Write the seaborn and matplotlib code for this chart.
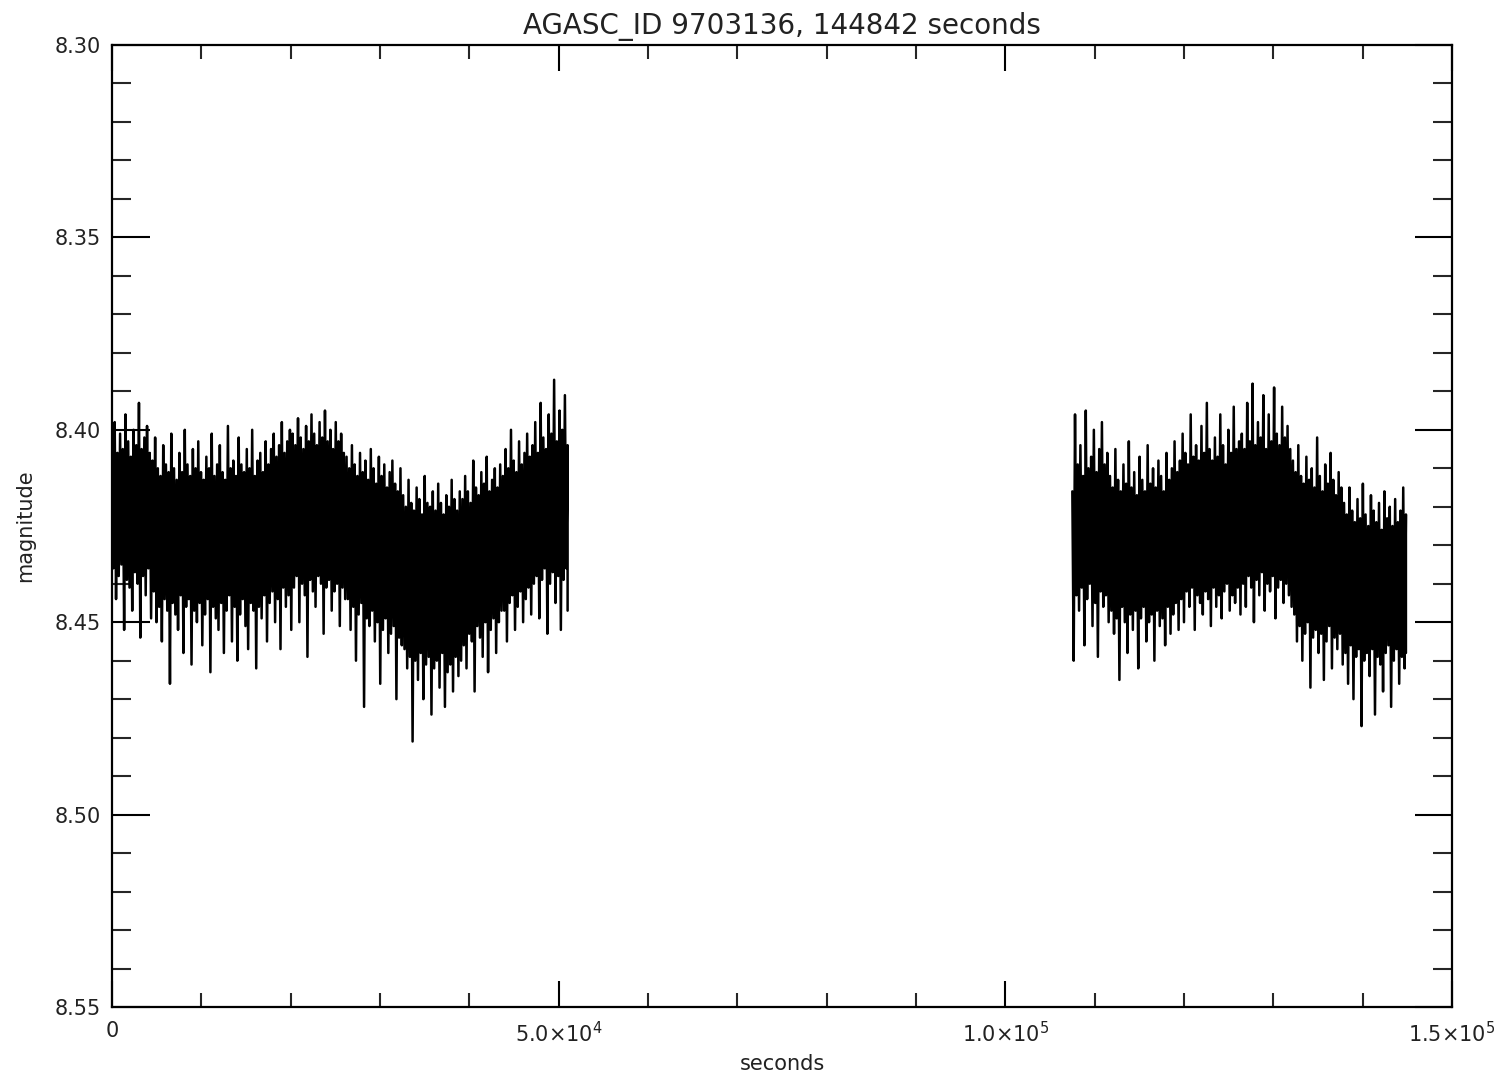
import numpy as np
import pandas as pd
import matplotlib
matplotlib.use("Agg")
import matplotlib.pyplot as plt
import seaborn as sns

# Light curve for AGASC_ID 9703136 over two observing intervals.
# Values are millimagnitudes above 8 mag, stored as alternating
# bright (top) and faint (bottom) samples along each interval.
seg1_start, seg1_end = 0.0, 51000.0
seg2_start, seg2_end = 107500.0, 144842.0

seg1_top = [
    404, 398, 406, 401, 405, 396, 403, 407, 400, 404, 393, 405, 402, 399, 406,
    408, 402, 410, 412, 404, 409, 411, 401, 410, 413,
    406, 411, 400, 409, 412, 405, 410, 403, 411, 413,
    407, 410, 401, 412, 409, 404, 411, 413, 399, 410,
    408, 412, 402, 409, 411, 405, 410, 400, 412, 408,
    406, 411, 403, 409, 405, 401, 407, 404, 398, 406,
    403, 400,
    401, 404, 397, 402, 405, 399, 403, 396, 401, 404,
    398, 402, 395, 403, 400, 405, 398, 403, 401, 406,
    407, 410, 404, 409, 412, 406, 411, 408, 413, 405,
    410, 414, 407, 412, 409, 415, 411, 408, 414, 416, 410,
    417, 420, 413, 419, 421, 415, 418, 422, 412, 419,
    420, 416, 421, 414, 419, 422, 417, 420, 413, 418, 421, 416,
    418, 412, 416, 419, 408, 415, 417, 411, 414, 407, 416, 413, 410, 415, 409,
    412, 405, 410, 400, 408, 411, 403, 409, 406, 401, 407,
    404, 398, 406, 393, 402, 405, 396, 401, 387, 403, 395, 400, 391, 404,
]
seg1_bottom = [
    436, 444, 438, 435, 452, 439, 441, 447, 437, 440, 454, 438, 443, 436, 449,
    442, 450, 446, 455, 444, 447, 466, 445, 448, 452,
    443, 458, 446, 444, 461, 447, 450, 445, 456, 448,
    444, 463, 446, 449, 452, 445, 458, 447, 443, 455,
    446, 460, 448, 444, 451, 457, 445, 447, 462, 446,
    449, 443, 455, 445, 442, 450, 444, 457, 441, 446,
    443, 452,
    441, 438, 450, 440, 443, 459, 439, 442, 446, 438,
    440, 453, 441, 439, 447, 442, 440, 451, 441, 444,
    444, 452, 446, 460, 448, 445, 472, 449, 451, 447,
    455, 450, 466, 452, 449, 458, 453, 451, 470, 454, 456,
    457, 462, 459, 481, 460, 465, 458, 470, 461, 459,
    474, 462, 460, 467, 458, 472, 463, 461, 468, 459, 464, 460,
    456, 462, 453, 455, 468, 451, 454, 459, 450, 463, 452, 449, 458, 450, 447,
    447, 455, 445, 443, 452, 446, 442, 450, 444, 441, 448,
    440, 438, 449, 439, 436, 453, 440, 437, 445, 438, 452, 439, 436, 447,
]
seg2_top = [
    416, 396, 409, 404, 412, 395, 410, 407, 400, 411, 405, 398, 409, 406,
    412, 415, 405, 413, 416, 409, 414, 403, 415, 411,
    417, 407, 413, 416, 404, 414, 410, 415, 408, 412,
    416, 406, 413, 410, 403, 411,
    408, 401, 406, 409, 396, 407, 404, 408, 399, 406,
    393, 405, 408, 402, 407, 396, 404, 409, 400, 406, 394, 405, 403,
    401, 405, 393, 403, 388, 404, 398, 402, 391, 405,
    396, 403, 389, 401, 404, 394, 402, 399, 405,
    408, 411, 404, 412, 414, 407, 413, 410, 415, 402,
    412, 416, 409, 414, 406, 413, 417, 411, 415,
    419, 422, 415, 421, 424, 418, 423, 414, 422, 425,
    417, 421, 424, 419, 426, 416, 423, 420, 425, 418, 424, 421, 415, 422,
]
seg2_bottom = [
    460, 443, 447, 441, 456, 444, 440, 451, 445, 459, 442, 446, 443, 450,
    447, 453, 449, 465, 446, 450, 458, 448, 452, 447,
    462, 449, 446, 455, 450, 448, 460, 447, 451, 449,
    456, 446, 453, 448, 445, 452,
    444, 450, 442, 446, 441, 452, 443, 445, 448, 442,
    444, 451, 441, 446, 443, 449, 442, 440, 447, 443, 445, 441, 448,
    440, 446, 438, 441, 450, 439, 443, 437, 447, 440,
    442, 438, 449, 441, 439, 445, 440, 443, 446,
    448, 455, 451, 460, 453, 450, 467, 454, 452, 458,
    453, 465, 455, 451, 462, 454, 457, 453, 461,
    458, 466, 456, 470, 459, 457, 477, 460, 458, 464,
    457, 474, 459, 461, 468, 458, 456, 472, 460, 457, 466, 459, 462, 458,
]

x_tick_values = [0, 50000, 100000, 150000]
x_tick_labels = ["0", r"5.0$\times$10$^{4}$", r"1.0$\times$10$^{5}$", r"1.5$\times$10$^{5}$"]
y_tick_values = [8.30, 8.35, 8.40, 8.45, 8.50, 8.55]
y_tick_labels = ["8.30", "8.35", "8.40", "8.45", "8.50", "8.55"]


def interleave(top, bottom, t0, t1, name):
    n = min(len(top), len(bottom))
    top = 8.0 + np.asarray(top[:n]) / 1000.0
    bottom = 8.0 + np.asarray(bottom[:n]) / 1000.0
    t_top = np.linspace(t0, t1, n)
    half = (t1 - t0) / (n - 1) / 2.0
    t = np.empty(2 * n)
    m = np.empty(2 * n)
    t[0::2] = t_top
    t[1::2] = np.minimum(t_top + half, t1)
    m[0::2] = top
    m[1::2] = bottom
    return pd.DataFrame({"seconds": t, "magnitude": m, "segment": name})


df = pd.concat([
    interleave(seg1_top, seg1_bottom, seg1_start, seg1_end, "a"),
    interleave(seg2_top, seg2_bottom, seg2_start, seg2_end, "b"),
], ignore_index=True)

sns.set_theme(style="white")
plt.rcParams["font.family"] = ["DejaVu Sans"]

fig = plt.figure(figsize=(15.06, 10.77), dpi=100)
ax = fig.add_axes([112 / 1506, 1 - 1007 / 1077, (1452 - 112) / 1506, (1007 - 45) / 1077])

sns.lineplot(data=df, x="seconds", y="magnitude", units="segment", estimator=None,
             sort=False, color="black", linewidth=1.8, ax=ax, legend=False)

ax.set_xlim(0, 150000)
ax.set_ylim(8.55, 8.30)

ax.set_xticks(x_tick_values)
ax.set_xticklabels(x_tick_labels)
ax.set_xticks(np.arange(0, 150001, 10000), minor=True)
ax.set_yticks(y_tick_values)
ax.set_yticklabels(y_tick_labels)
ax.set_yticks(np.arange(8.30, 8.5501, 0.01), minor=True)

txt_color = "#222222"
ax.tick_params(axis="x", which="major", direction="in", length=19, width=1.5,
               top=True, bottom=True, labelsize=15, pad=10, colors="black",
               labelcolor=txt_color)
ax.tick_params(axis="x", which="minor", direction="in", length=10, width=1.5,
               top=True, bottom=True)
ax.tick_params(axis="y", which="major", direction="in", length=27, width=1.5,
               left=True, right=True, labelsize=15, pad=8, colors="black",
               labelcolor=txt_color)
ax.tick_params(axis="y", which="minor", direction="in", length=14, width=1.5,
               left=True, right=True)

for sp in ax.spines.values():
    sp.set_visible(True)
    sp.set_color("black")
    sp.set_linewidth(1.6)

ax.set_xlabel("seconds", fontsize=15, color=txt_color, labelpad=6)
ax.set_ylabel("magnitude", fontsize=15, color=txt_color, labelpad=14)
ax.set_title("AGASC_ID 9703136, 144842 seconds", fontsize=20, color=txt_color, pad=8)
ax.grid(False)

fig.savefig("out.png", dpi=100, facecolor="white")
